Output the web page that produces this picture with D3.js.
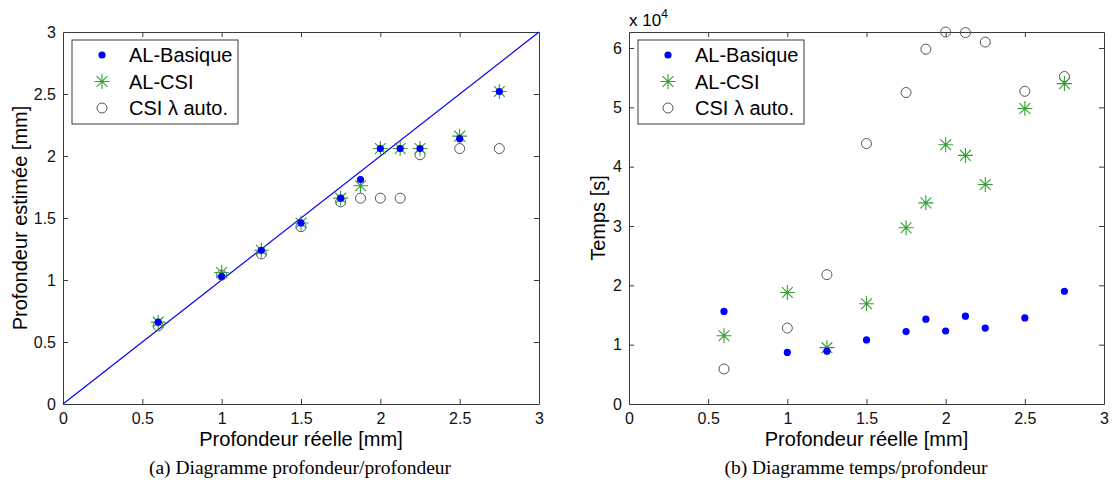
<!DOCTYPE html>
<html>
<head>
<meta charset="utf-8">
<script src="https://cdn.jsdelivr.net/npm/d3@7"></script>
<style>
  body { margin: 0; background: #fff; }
  svg { display: block; }
</style>
</head>
<body>
<svg id="chart" width="1113" height="493"></svg>
<script>
// ---------- data ----------
const depthReal = [0.6, 1, 1.25, 1.5, 1.75, 1.875, 2, 2.125, 2.25, 2.5, 2.75];

// (a) estimated depth [mm]
const estBasique = [0.66, 1.03, 1.24, 1.46, 1.66, 1.81, 2.06, 2.06, 2.06, 2.14, 2.52];
const estCSI     = [0.66, 1.06, 1.24, 1.46, 1.66, 1.76, 2.06, 2.06, 2.06, 2.16, 2.52];
const estAuto    = [0.63, 1.04, 1.21, 1.43, 1.63, 1.66, 1.66, 1.66, 2.01, 2.06, 2.06];

// (b) time [s]
const timeBasique = [15600, 8700, 8900, 10800, 12200, 14300, 12300, 14800, 12800, 14500, 19000];
const timeCSI     = [11500, 18800, 9500, 16900, 29700, 33900, 43700, 41900, 37000, 49800, 54000];
const timeAuto    = [5900, 12800, 21800, 43900, 52500, 59800, 62700, 62600, 61000, 52700, 55200];

const seriesNames = ["AL-Basique", "AL-CSI", "CSI \u03bb auto."];
const xTicks = [0, 0.5, 1, 1.5, 2, 2.5, 3];
const yTicksA = [0, 0.5, 1, 1.5, 2, 2.5, 3];
const yTicksB = [0, 10000, 20000, 30000, 40000, 50000, 60000];
const xLabel = "Profondeur r\u00e9elle [mm]";
const yLabelA = "Profondeur estim\u00e9e [mm]";
const yLabelB = "Temps [s]";
const captionA = "(a) Diagramme profondeur/profondeur";
const captionB = "(b) Diagramme temps/profondeur";

// ---------- styles ----------
const SANS = "'Liberation Sans', Arial, Helvetica, sans-serif";
const SERIF = "'Liberation Serif', 'Times New Roman', serif";
const AXIS_COLOR = "#3a3a3a";
const BLUE = "#0000ff";
const GREEN = "#34a034";
const CIRCLE = "#555555";

const svg = d3.select("#chart");

function starPath(r) {
  const d = r * 0.72;
  return `M${-r},0L${r},0M0,${-r}L0,${r}M${-d},${-d}L${d},${d}M${-d},${d}L${d},${-d}`;
}

function drawPanel(opts) {
  const g = svg.append("g");
  const x = d3.scaleLinear().domain([0, 3]).range([opts.x0, opts.x1]);
  const y = d3.scaleLinear().domain(opts.yDomain).range([404, 32]);

  const tickLen = 5;
  const bottom = g.append("g").attr("transform", `translate(0,${y.range()[0]})`)
    .call(d3.axisBottom(x).tickValues(xTicks).tickSizeInner(-tickLen).tickSizeOuter(0).tickPadding(9).tickFormat(d3.format("")));
  const top = g.append("g").attr("transform", `translate(0,${y.range()[1]})`)
    .call(d3.axisTop(x).tickValues(xTicks).tickSizeInner(-tickLen).tickSizeOuter(0).tickFormat(""));
  const left = g.append("g").attr("transform", `translate(${opts.x0},0)`)
    .call(d3.axisLeft(y).tickValues(opts.yTicks).tickSizeInner(-tickLen).tickSizeOuter(0).tickPadding(7).tickFormat(opts.yFormat));
  const right = g.append("g").attr("transform", `translate(${opts.x1},0)`)
    .call(d3.axisRight(y).tickValues(opts.yTicks).tickSizeInner(-tickLen).tickSizeOuter(0).tickFormat(""));
  [bottom, top, left, right].forEach(a => {
    a.selectAll("path.domain").attr("stroke", AXIS_COLOR).attr("stroke-width", 1);
    a.selectAll(".tick line").attr("stroke", AXIS_COLOR).attr("stroke-width", 1);
    a.selectAll(".tick text").attr("font-family", SANS).attr("font-size", 16).attr("fill", "#111");
  });
  [bottom, top].forEach(a => a.selectAll(".tick line").filter(d => d === 0 || d === 3).remove());
  [left, right].forEach(a => a.selectAll(".tick line").filter(d => d === opts.yDomain[0] || d === opts.yDomain[1]).remove());

  const clipId = "clip" + opts.id;
  g.append("clipPath").attr("id", clipId).append("rect")
    .attr("x", opts.x0 - 8).attr("y", 32 - 8).attr("width", opts.x1 - opts.x0 + 16).attr("height", 372 + 16);
  const plot = g.append("g").attr("clip-path", `url(#${clipId})`);

  if (opts.diagonal) {
    plot.append("line")
      .attr("x1", x(0)).attr("y1", y(0)).attr("x2", x(3)).attr("y2", y(3))
      .attr("stroke", BLUE).attr("stroke-width", 1.2);
  }

  const pts = (vals) => depthReal.map((d, i) => [d, vals[i]]);

  plot.selectAll("circle.auto").data(pts(opts.sAuto)).join("circle")
    .attr("class", "auto")
    .attr("cx", d => x(d[0])).attr("cy", d => y(d[1])).attr("r", 5)
    .attr("fill", "none").attr("stroke", CIRCLE).attr("stroke-width", 1);
  plot.selectAll("path.csi").data(pts(opts.sCSI)).join("path")
    .attr("class", "csi")
    .attr("transform", d => `translate(${x(d[0])},${y(d[1])})`)
    .attr("d", starPath(7.5))
    .attr("stroke", GREEN).attr("stroke-width", 1.1).attr("fill", "none");
  plot.selectAll("circle.bas").data(pts(opts.sBas)).join("circle")
    .attr("class", "bas")
    .attr("cx", d => x(d[0])).attr("cy", d => y(d[1])).attr("r", 3.6)
    .attr("fill", BLUE);

  g.append("text")
    .attr("x", (opts.x0 + opts.x1) / 2).attr("y", 446)
    .attr("text-anchor", "middle").attr("font-family", SANS).attr("font-size", 20)
    .text(xLabel);
  g.append("text")
    .attr("transform", `translate(${opts.yLabelX},218) rotate(-90)`)
    .attr("text-anchor", "middle").attr("font-family", SANS).attr("font-size", 20)
    .text(opts.yLabel);

  g.append("text")
    .attr("x", opts.captionX).attr("y", 474)
    .attr("text-anchor", "middle").attr("font-family", SERIF).attr("font-size", 19.5)
    .text(opts.caption);

  const lx = opts.x0 + 9, ly = 40, lw = 166, lh = 84;
  const leg = g.append("g");
  leg.append("rect").attr("x", lx).attr("y", ly).attr("width", lw).attr("height", lh)
    .attr("fill", "#fff").attr("stroke", AXIS_COLOR).attr("stroke-width", 1);
  const rows = [15, 41.5, 68];
  const mx = lx + 30, tx = lx + 57;
  leg.append("circle").attr("cx", mx).attr("cy", ly + rows[0]).attr("r", 3.6).attr("fill", BLUE);
  leg.append("path").attr("transform", `translate(${mx},${ly + rows[1]})`).attr("d", starPath(7.5))
    .attr("stroke", GREEN).attr("stroke-width", 1.1).attr("fill", "none");
  leg.append("circle").attr("cx", mx).attr("cy", ly + rows[2]).attr("r", 5)
    .attr("fill", "none").attr("stroke", CIRCLE).attr("stroke-width", 1);
  seriesNames.forEach((s, i) => {
    leg.append("text").attr("x", tx).attr("y", ly + rows[i]).attr("dy", "0.36em")
      .attr("font-family", SANS).attr("font-size", 20).text(s);
  });
  return g;
}

drawPanel({
  id: "a", x0: 63, x1: 539, yDomain: [0, 3], yTicks: yTicksA,
  yFormat: d3.format(""), sBas: estBasique, sCSI: estCSI, sAuto: estAuto,
  diagonal: true, yLabel: yLabelA, yLabelX: 27, caption: captionA, captionX: 300
});

const gB = drawPanel({
  id: "b", x0: 629, x1: 1104, yDomain: [0, 62700], yTicks: yTicksB,
  yFormat: d => d3.format("")(d / 10000), sBas: timeBasique, sCSI: timeCSI, sAuto: timeAuto,
  diagonal: false, yLabel: yLabelB, yLabelX: 605, caption: captionB, captionX: 856
});

const ex = gB.append("text").attr("x", 629).attr("y", 26).attr("font-family", SANS).attr("font-size", 17);
ex.append("tspan").text("x 10");
ex.append("tspan").attr("dy", -8).attr("font-size", 12).text("4");
</script>
</body>
</html>
